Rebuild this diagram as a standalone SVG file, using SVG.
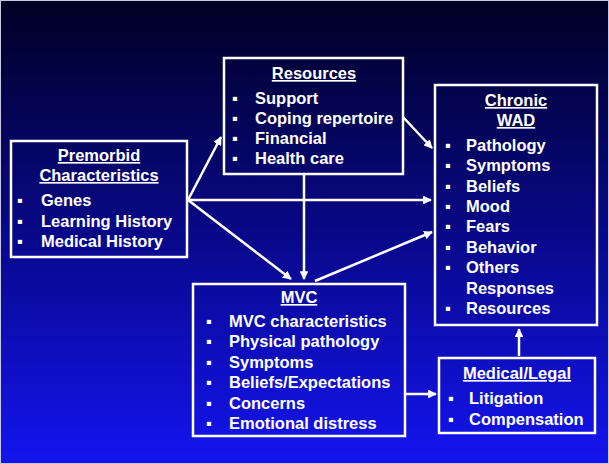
<svg xmlns="http://www.w3.org/2000/svg" width="609" height="464" viewBox="0 0 609 464">
<defs>
<linearGradient id="bg" x1="0" y1="0" x2="0" y2="1">
<stop offset="0" stop-color="#000024"/>
<stop offset="0.5" stop-color="#080888"/>
<stop offset="1" stop-color="#1414f0"/>
</linearGradient>
<marker id="ah" viewBox="0 0 10 10" refX="9" refY="5" markerWidth="3.5" markerHeight="3.5" orient="auto">
<path d="M0,0 L10,5 L0,10 z" fill="#fff"/>
</marker>
<style>
.box{fill:none;stroke:#fff;stroke-width:2.5}
.t{font-family:"Liberation Sans",Arial,sans-serif;font-weight:bold;font-size:16.5px;fill:#fff}
.h{text-decoration:underline;text-anchor:middle}
.c line{stroke:#fff;stroke-width:2.5;marker-end:url(#ah)}
</style>
</defs>
<rect x="0" y="0" width="609" height="464" fill="url(#bg)"/>
<rect x="0.5" y="0.5" width="608" height="463" fill="none" stroke="#c8c8e0" stroke-width="1"/>
<g class="c" id="connectors">
<line x1="188" y1="200" x2="221" y2="137"/>
<line x1="188" y1="200" x2="431" y2="200"/>
<line x1="188" y1="200" x2="291" y2="279"/>
<line x1="403" y1="117" x2="432" y2="148"/>
<line x1="304" y1="175" x2="304" y2="279"/>
<line x1="315" y1="281" x2="432" y2="232"/>
<line x1="406" y1="394" x2="436" y2="394"/>
<line x1="519" y1="356" x2="519" y2="329"/>
</g>
<g id="premorbid">
<rect class="box" x="11" y="141" width="176" height="116"/>
<text class="t h" x="99" y="161">Premorbid</text>
<text class="t h" x="99" y="181">Characteristics</text>
<text class="t" x="17" y="206">▪</text><text class="t" x="41" y="206">Genes</text>
<text class="t" x="17" y="227">▪</text><text class="t" x="41" y="227">Learning History</text>
<text class="t" x="17" y="247">▪</text><text class="t" x="41" y="247">Medical History</text>
</g>
<g id="resources">
<rect class="box" x="224" y="58" width="179" height="116"/>
<text class="t h" x="314" y="79">Resources</text>
<text class="t" x="232" y="104">▪</text><text class="t" x="255" y="104">Support</text>
<text class="t" x="232" y="124">▪</text><text class="t" x="255" y="124">Coping repertoire</text>
<text class="t" x="232" y="144">▪</text><text class="t" x="255" y="144">Financial</text>
<text class="t" x="232" y="164">▪</text><text class="t" x="255" y="164">Health care</text>
</g>
<g id="chronic">
<rect class="box" x="435" y="85" width="162" height="240"/>
<text class="t h" x="516" y="106">Chronic</text>
<text class="t h" x="516" y="126">WAD</text>
<text class="t" x="445" y="151">▪</text><text class="t" x="466" y="151">Pathology</text>
<text class="t" x="445" y="171">▪</text><text class="t" x="466" y="171">Symptoms</text>
<text class="t" x="445" y="192">▪</text><text class="t" x="466" y="192">Beliefs</text>
<text class="t" x="445" y="212">▪</text><text class="t" x="466" y="212">Mood</text>
<text class="t" x="445" y="232">▪</text><text class="t" x="466" y="232">Fears</text>
<text class="t" x="445" y="253">▪</text><text class="t" x="466" y="253">Behavior</text>
<text class="t" x="445" y="273">▪</text><text class="t" x="466" y="273">Others</text>
<text class="t" x="466" y="294">Responses</text>
<text class="t" x="445" y="314">▪</text><text class="t" x="466" y="314">Resources</text>
</g>
<g id="mvc">
<rect class="box" x="193" y="284" width="212" height="152"/>
<text class="t h" x="299" y="303">MVC</text>
<text class="t" x="206" y="327">▪</text><text class="t" x="229" y="327">MVC characteristics</text>
<text class="t" x="206" y="347">▪</text><text class="t" x="229" y="347">Physical pathology</text>
<text class="t" x="206" y="368">▪</text><text class="t" x="229" y="368">Symptoms</text>
<text class="t" x="206" y="388">▪</text><text class="t" x="229" y="388">Beliefs/Expectations</text>
<text class="t" x="206" y="409">▪</text><text class="t" x="229" y="409">Concerns</text>
<text class="t" x="206" y="429">▪</text><text class="t" x="229" y="429">Emotional distress</text>
</g>
<g id="medlegal">
<rect class="box" x="439" y="358" width="156" height="75"/>
<text class="t h" x="517" y="379">Medical/Legal</text>
<text class="t" x="448" y="404">▪</text><text class="t" x="469" y="404">Litigation</text>
<text class="t" x="448" y="425">▪</text><text class="t" x="469" y="425">Compensation</text>
</g>
</svg>
